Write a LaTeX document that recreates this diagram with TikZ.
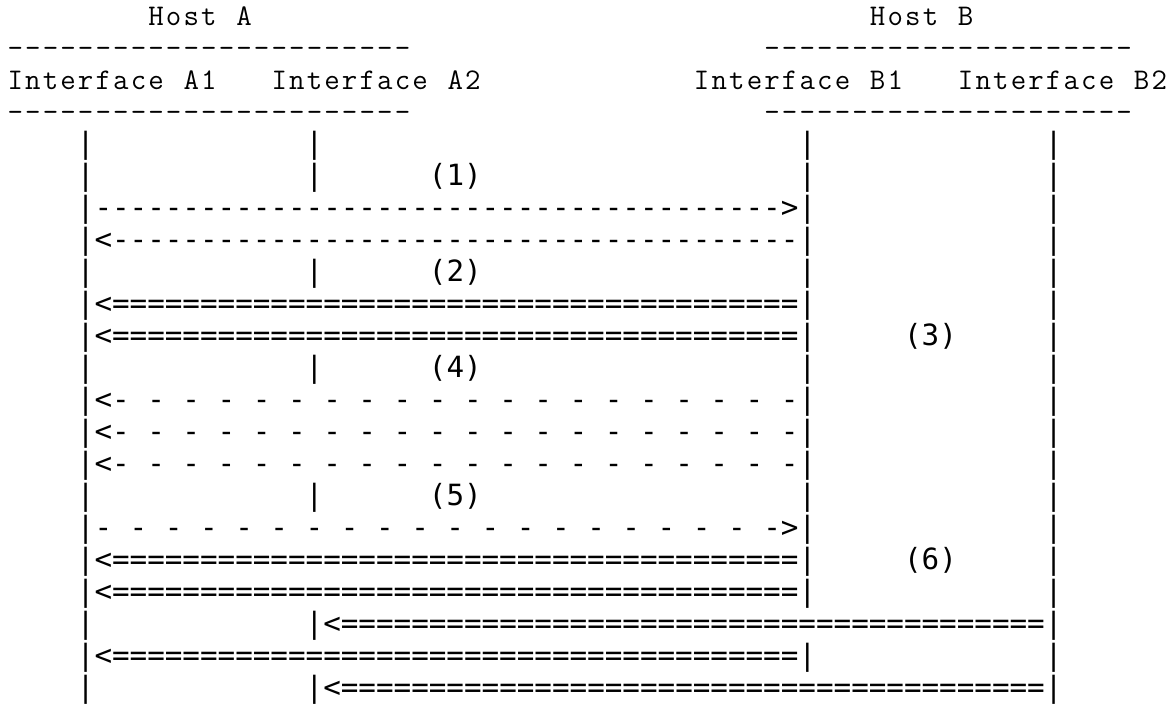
\documentclass[tikz,border=0pt]{standalone}
\usepackage{fontspec}
\newfontfamily\dvm{DejaVu Sans Mono}
\newcommand\cellbox[1]{\makebox[17.6pt][c]{#1}}
\newcommand\cells[2]{\foreach\k in {1,...,#1}{\cellbox{#2}}}
\newcommand\gaps[1]{\foreach\k in {1,...,#1}{\cellbox{}\cellbox{-}}}
\def\gridend{}
\def\gridword#1{\gridwordA#1\gridend}
\def\gridwordA#1{\ifx#1\gridend\else\cellbox{#1}\expandafter\gridwordA\fi}
\tikzset{
  txt/.style={anchor=base west, inner sep=0pt, outer sep=0pt},
  low/.style={txt, font=\dvm\fontsize{29.23}{32}\selectfont},
  head/.style={txt, font=\ttfamily\fontsize{30}{32}\selectfont},
}
% #1 style, #2 name, #3 column, #4 row, #5 content
\newcommand\seg[5]{\node[#1] (#2) at ({6.5+(#3)*17.6},{-(25.5+32*((#4)-1))}) {#5};}
\begin{document}
\begin{tikzpicture}[x=1pt,y=1pt]
\fill[white] (0,0) rectangle (1173,-704);
\useasboundingbox (0,0) rectangle (1173,-704);
% header
\seg{head}{hostA}{8}{1}{\gridword{Host}\cellbox{}\gridword{A}}
\seg{head}{hostB}{49}{1}{\gridword{Host}\cellbox{}\gridword{B}}
\seg{head}{ruleA1}{0}{2}{\cells{23}{-}}
\seg{head}{ruleB1}{43}{2}{\cells{21}{-}}
\seg{head}{ifA1}{0}{3}{\gridword{Interface}\cellbox{}\gridword{A1}}
\seg{head}{ifA2}{15}{3}{\gridword{Interface}\cellbox{}\gridword{A2}}
\seg{head}{ifB1}{39}{3}{\gridword{Interface}\cellbox{}\gridword{B1}}
\seg{head}{ifB2}{54}{3}{\gridword{Interface}\cellbox{}\gridword{B2}}
\seg{head}{ruleA2}{0}{4}{\cells{23}{-}}
\seg{head}{ruleB2}{43}{4}{\cells{21}{-}}
% life lines
\foreach \r in {5,6,9,12,16}{\foreach \c in {4,17,45,59}{\seg{low}{bar\r-\c}{\c}{\r}{\cellbox{|}}}}
\foreach \r in {7,8,10,11,13,14,15,17,18,19,21}{\foreach \c in {4,45,59}{\seg{low}{bar\r-\c}{\c}{\r}{\cellbox{|}}}}
\foreach \r in {20,22}{\foreach \c in {4,17,59}{\seg{low}{bar\r-\c}{\c}{\r}{\cellbox{|}}}}
% step labels
\seg{low}{l1}{24}{6}{\gridword{(1)}}
\seg{low}{l2}{24}{9}{\gridword{(2)}}
\seg{low}{l3}{51}{11}{\gridword{(3)}}
\seg{low}{l4}{24}{12}{\gridword{(4)}}
\seg{low}{l5}{24}{16}{\gridword{(5)}}
\seg{low}{l6}{51}{18}{\gridword{(6)}}
% arrows
\seg{low}{a7}{5}{7}{\cells{39}{-}\cellbox{>}}
\seg{low}{a8}{5}{8}{\cellbox{<}\cells{39}{-}}
\seg{low}{a10}{5}{10}{\cellbox{<}\cells{39}{=}}
\seg{low}{a11}{5}{11}{\cellbox{<}\cells{39}{=}}
\seg{low}{a13}{5}{13}{\cellbox{<}\cellbox{-}\gaps{19}}
\seg{low}{a14}{5}{14}{\cellbox{<}\cellbox{-}\gaps{19}}
\seg{low}{a15}{5}{15}{\cellbox{<}\cellbox{-}\gaps{19}}
\seg{low}{a17}{5}{17}{\cellbox{-}\gaps{19}\cellbox{>}}
\seg{low}{a18}{5}{18}{\cellbox{<}\cells{39}{=}}
\seg{low}{a19}{5}{19}{\cellbox{<}\cells{39}{=}}
\seg{low}{a20}{18}{20}{\cellbox{<}\cells{40}{=}}
\seg{low}{a21}{5}{21}{\cellbox{<}\cells{39}{=}}
\seg{low}{a22}{18}{22}{\cellbox{<}\cells{40}{=}}
\end{tikzpicture}
\end{document}
